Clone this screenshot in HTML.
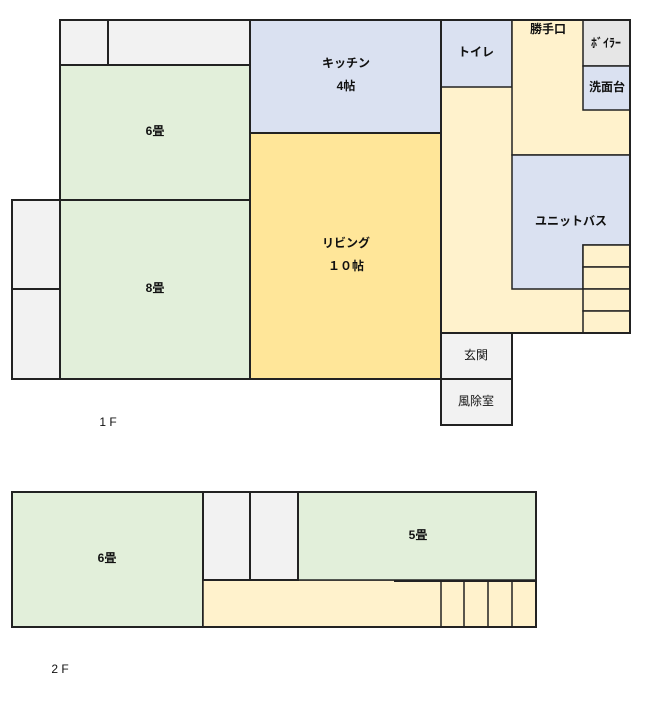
<!DOCTYPE html>
<html><head><meta charset="utf-8"><style>
html,body{margin:0;padding:0;background:#fff;width:650px;height:705px;overflow:hidden}
svg text{font-family:"Liberation Sans","Noto Sans CJK JP",sans-serif;font-size:12px;fill:#111;text-anchor:middle;dominant-baseline:middle}
</style></head><body>
<svg width="650" height="705" viewBox="0 0 650 705" xmlns="http://www.w3.org/2000/svg">
<g stroke="#222" stroke-width="2">
<!-- 1F -->
<rect x="60" y="20" width="48" height="45" fill="#f2f2f2"/>
<rect x="108" y="20" width="142" height="45" fill="#f2f2f2"/>
<rect x="60" y="65" width="190" height="135" fill="#e2efda"/>
<rect x="60" y="200" width="190" height="179" fill="#e2efda"/>
<rect x="12" y="200" width="48" height="89" fill="#f2f2f2"/>
<rect x="12" y="289" width="48" height="90" fill="#f2f2f2"/>
<rect x="250" y="20" width="191" height="113" fill="#dae1f1"/>
<rect x="250" y="133" width="191" height="246" fill="#ffe699"/>
<rect x="441" y="20" width="189" height="313" fill="#fff2cc"/>
<rect x="441" y="20" width="71" height="67" fill="#dae1f1" stroke-width="1.5"/>
<rect x="512" y="20" width="118" height="135" fill="#fff2cc" stroke-width="1.5"/>
<rect x="583" y="20" width="47" height="46" fill="#e6e6e6" stroke-width="1.5"/>
<rect x="583" y="66" width="47" height="44" fill="#dae1f1" stroke-width="1.5"/>
<path d="M512 155 H630 V245 H583 V289 H512 Z" fill="#dae1f1" stroke-width="1.5"/>
<rect x="583" y="245" width="47" height="22" fill="#fff2cc" stroke-width="1.5"/>
<rect x="583" y="267" width="47" height="22" fill="#fff2cc" stroke-width="1.5"/>
<rect x="583" y="289" width="47" height="22" fill="#fff2cc" stroke-width="1.5"/>
<rect x="583" y="311" width="47" height="22" fill="#fff2cc" stroke-width="1.5"/>
<rect x="441" y="20" width="189" height="313" fill="none"/>
<rect x="441" y="333" width="71" height="46" fill="#f2f2f2"/>
<rect x="441" y="379" width="71" height="46" fill="#f2f2f2"/>
<!-- 2F -->
<rect x="12" y="492" width="191" height="135" fill="#e2efda"/>
<rect x="203" y="580" width="333" height="47" fill="#fff2cc" stroke-width="1.5"/>
<rect x="298" y="492" width="238" height="88" fill="#e2efda" stroke-width="1.5"/>
<rect x="203" y="492" width="47" height="88" fill="#f2f2f2"/>
<rect x="250" y="492" width="48" height="88" fill="#f2f2f2"/>
<line x1="394" y1="581" x2="536" y2="581"/>
<g stroke-width="1.5">
<line x1="441" y1="581" x2="441" y2="627"/>
<line x1="464" y1="581" x2="464" y2="627"/>
<line x1="488" y1="581" x2="488" y2="627"/>
<line x1="512" y1="581" x2="512" y2="627"/>
</g>
<rect x="12" y="492" width="524" height="135" fill="none"/>
</g>
<g font-weight="bold">
<text x="155" y="132">6畳</text>
<text x="155" y="289">8畳</text>
<text x="346" y="64">キッチン</text>
<text x="346" y="87">4帖</text>
<text x="346" y="244">リビング</text>
<text x="346" y="267">１０帖</text>
<text x="476" y="53">トイレ</text>
<text x="548" y="30">勝手口</text>
<text x="606" y="44" font-size="10">ﾎﾞｲﾗｰ</text>
<text x="607" y="88">洗面台</text>
<text x="571" y="222">ユニットバス</text>
<text x="107" y="559">6畳</text>
<text x="418" y="536">5畳</text>
</g>
<text x="476" y="356" fill="#444">玄関</text>
<text x="476" y="402" fill="#444">風除室</text>
<text x="108" y="423">1 F</text>
<text x="60" y="670">2 F</text>
</svg>
</body></html>
